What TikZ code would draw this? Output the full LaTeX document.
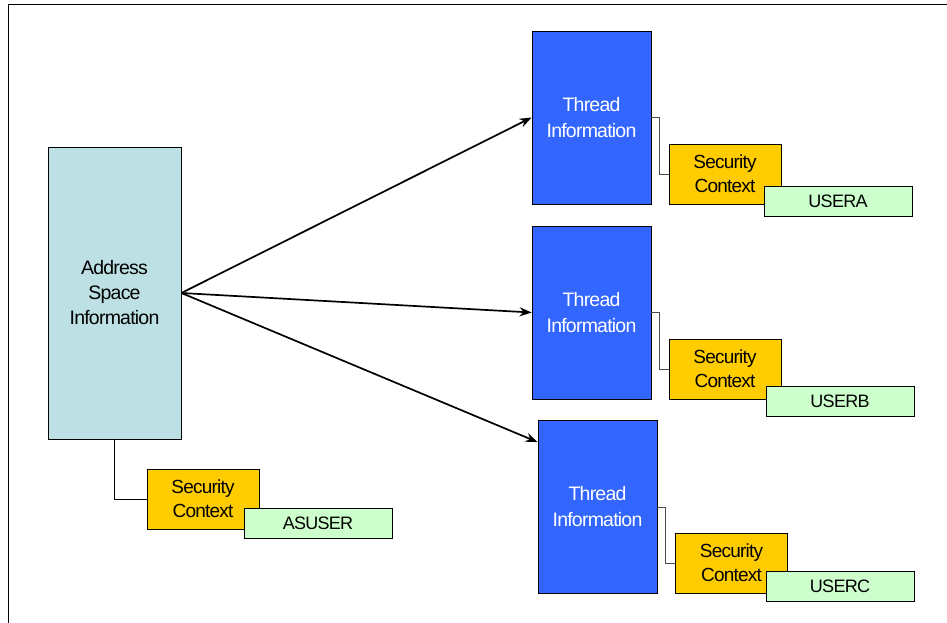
\documentclass[tikz,border=0pt]{standalone}
\usepackage{fontspec}
\setmainfont{Liberation Sans}[LetterSpace=-4]
\usetikzlibrary{arrows.meta}
\definecolor{addrblue}{HTML}{BCE0E3}
\definecolor{thrblue}{HTML}{3366FF}
\definecolor{secgold}{HTML}{FFCC00}
\definecolor{usrgreen}{HTML}{CCFFCC}
\tikzset{
  infobox/.style = {rectangle, draw, line width=0.8pt, fill=addrblue, minimum width=133pt, minimum height=292pt, align=center, font=\fontsize{19.5}{25}\selectfont},
  thread/.style  = {rectangle, draw, line width=0.8pt, fill=thrblue, text=white, minimum width=119pt, minimum height=173pt, align=center, font=\fontsize{19.5}{26}\selectfont},
  secctx/.style  = {rectangle, draw, line width=0.8pt, fill=secgold, minimum width=112pt, minimum height=60pt, align=center, font=\fontsize{19}{24}\selectfont},
  userid/.style  = {rectangle, draw, line width=0.8pt, fill=usrgreen, minimum width=148pt, minimum height=30pt, font=\fontsize{18}{20}\selectfont},
  link/.style    = {line width=0.8pt, black!70}, flow/.style = {line width=1.7pt, -{Stealth[length=12pt,width=9pt]}}
}
\begin{document}
\begin{tikzpicture}[x=1pt,y=-1pt]
  \useasboundingbox (0,0) rectangle (947,623);
  \draw[line width=1pt] (8,640) |- (960,5);
  \node[infobox] (addr) at (114.5,293) {Address\\Space\\Information};
  \node[secctx] (sec0) at (203,499) {Security\\Context}; \node[userid] (usr0) at (318,523) {ASUSER};
  \draw[line width=0.8pt] (addr.south) |- (sec0.west);
  % threads with their security contexts
  \node[thread] (thrA) at (591.5,117.5) {Thread\\Information};
  \node[secctx] (secA) at (725,174) {Security\\Context}; \node[userid] (usrA) at (838,201) {USERA};
  \draw[link] (thrA.east) -- ++(8,0) |- (secA.west);
  \node[thread] (thrB) at (591.5,312.5) {Thread\\Information};
  \node[secctx] (secB) at (725,369) {Security\\Context}; \node[userid] (usrB) at (840,401.5) {USERB};
  \draw[link] (thrB.east) -- ++(8,0) |- (secB.west);
  \node[thread] (thrC) at (597.5,507) {Thread\\Information};
  \node[secctx] (secC) at (731.5,563) {Security\\Context}; \node[userid] (usrC) at (840,586) {USERC};
  \draw[link] (thrC.east) -- ++(8,0) |- (secC.west);
  \draw[flow] (addr.east) -- (thrA.west);
  \draw[flow] (addr.east) -- (thrB.west);
  \draw[flow] (addr.east) -- ([yshift=-22pt]thrC.north west);
\end{tikzpicture}
\end{document}
